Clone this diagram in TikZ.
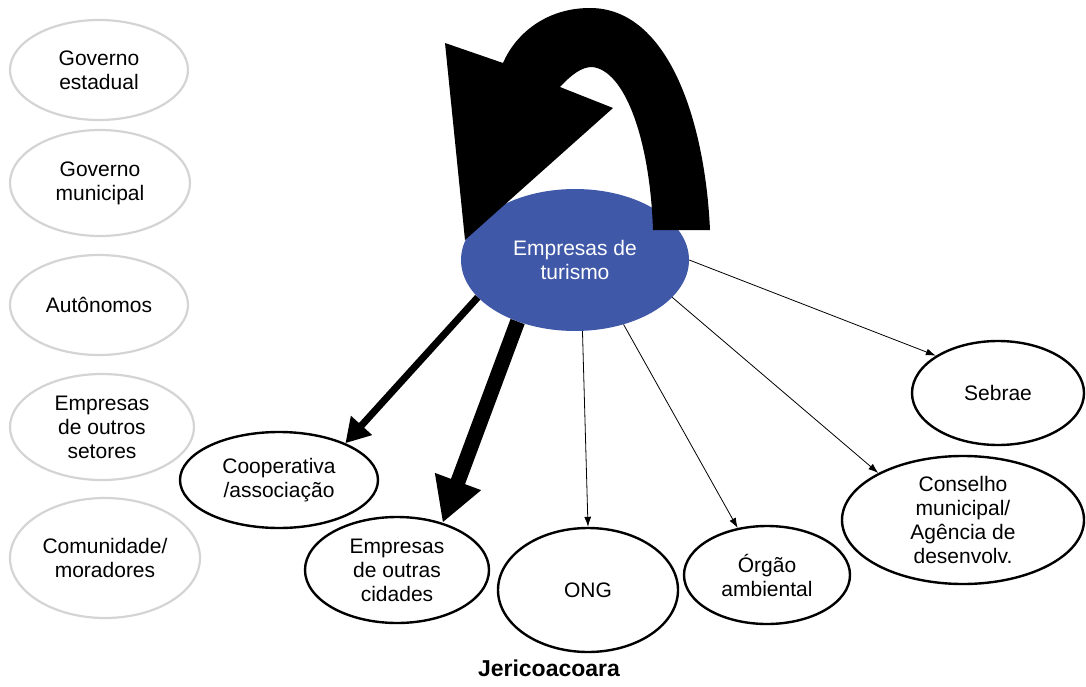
\documentclass[tikz,border=0pt]{standalone}
\usepackage{fontspec}
\setmainfont{Liberation Sans}
\usetikzlibrary{shapes.geometric,arrows.meta}
\definecolor{tourblue}{RGB}{64,88,168}
\definecolor{faint}{RGB}{212,212,212}

\begin{document}
\begin{tikzpicture}[x=1pt,y=-1pt,
  txt/.style={font=\fontsize{21}{24}\selectfont, align=center},
  actor/.style={ellipse, draw=black, line width=2.4pt, inner sep=0pt, txt},
  absent/.style={ellipse, draw=faint, line width=2.2pt, inner sep=0pt, txt},
  thinlink/.style={-{Latex[length=10pt,width=7pt]}, line width=0.8pt},
  boldlink/.style={-{Triangle[length=24pt,width=27pt]}, line width=7pt},
  heavylink/.style={-{Triangle[length=44pt,width=46pt]}, line width=15pt},
]
\useasboundingbox (0,0) rectangle (1086,687);

% actors without ties (left column)
\node[absent, minimum width=178pt, minimum height=100pt] (gest) at (99,70) {Governo\\estadual};
\node[absent, minimum width=180pt, minimum height=106pt] (gmun) at (100,183) {Governo\\municipal};
\node[absent, minimum width=178pt, minimum height=100pt] (auto) at (99,305) {Autônomos};
\node[absent, minimum width=184pt, minimum height=106pt] (eout) at (102,427) {Empresas\\de outros\\setores};
\node[absent, minimum width=190pt, minimum height=120pt] (comu) at (105,558) {Comunidade/\\moradores};

% central actor
\node[ellipse, fill=tourblue, inner sep=0pt, minimum width=228pt, minimum height=142pt,
      txt, text=white] (tur) at (575,260) {Empresas de\\turismo};

% actors with ties
\node[actor, minimum width=172pt, minimum height=104pt] (seb) at (998,393) {Sebrae};
\node[actor, minimum width=242pt, minimum height=128pt] (cons) at (963,520) {Conselho\\municipal/\\Agência de\\desenvolv.};
\node[actor, minimum width=166pt, minimum height=98pt] (orgao) at (767,575) {Órgão\\ambiental};
\node[actor, minimum width=180pt, minimum height=124pt] (ong) at (588,590) {ONG};
\node[actor, minimum width=184pt, minimum height=106pt] (ecid) at (397,570) {Empresas\\de outras\\cidades};
\node[actor, minimum width=198pt, minimum height=96pt] (coop) at (279,480) {Cooperativa\\/associação};

% ties
\draw[thinlink] (tur.0) -- (seb.149);
\draw[thinlink] (tur.339) -- (cons.151);
\draw[thinlink] (tur.307) -- (orgao.122);
\draw[thinlink] (tur.276) -- (ong.90);
\draw[boldlink] (tur.201) -- (coop.29);
\draw[heavylink] (tur.227) -- (ecid.46);

% self tie: wide curved arrow over the central actor
\fill[black] (710,230) .. controls (705,120) and (668,8) .. (590,8)
  .. controls (545,8) and (515,35) .. (503,63)
  -- (445,43) -- (465,240) -- (613,108) -- (560,87)
  .. controls (572,74) and (582,67) .. (592,67)
  .. controls (625,70) and (650,140) .. (653,230) -- cycle;

\node[font=\fontsize{23}{26}\selectfont\bfseries] (place) at (549,668) {Jericoacoara};
\end{tikzpicture}
\end{document}
